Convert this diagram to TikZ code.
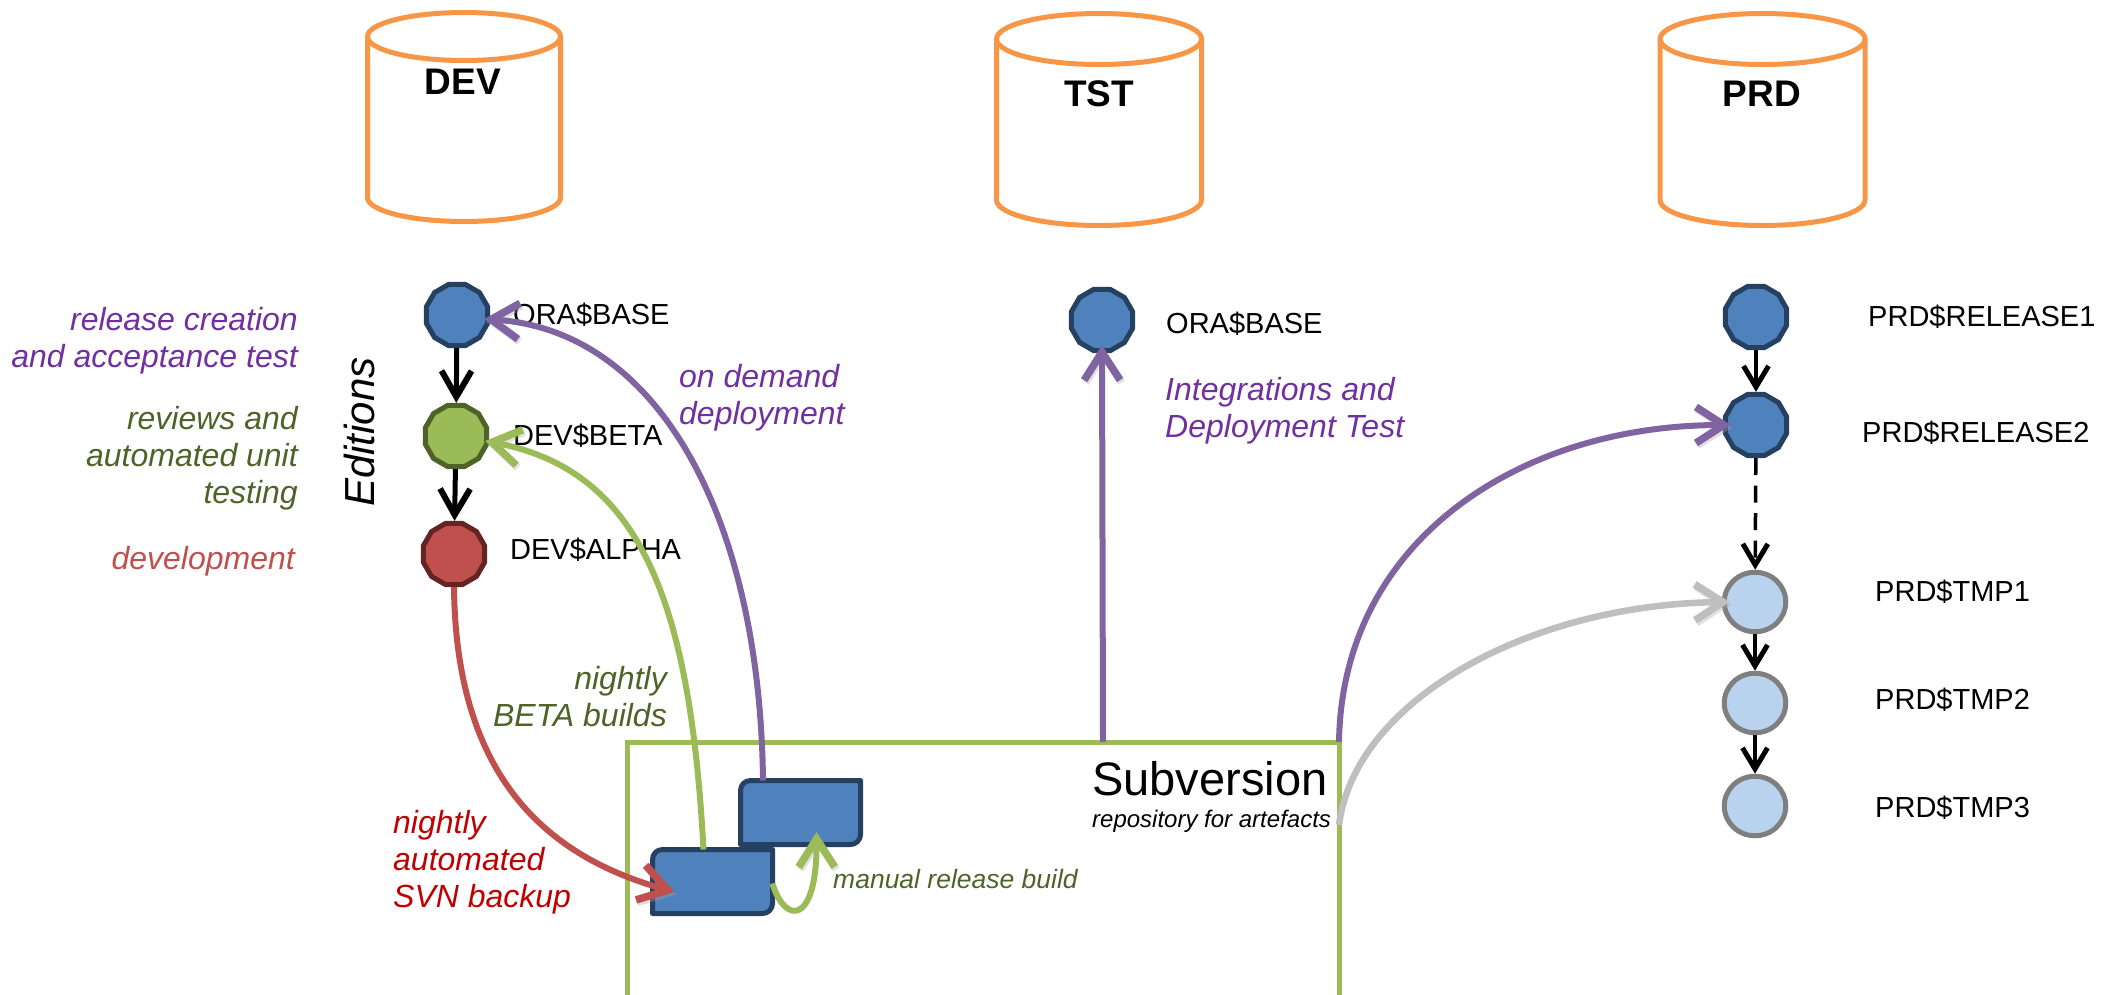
\documentclass[tikz,border=0pt]{standalone}
\usepackage{fontspec}
\setmainfont{Liberation Sans}
\usetikzlibrary{arrows.meta,shapes.geometric,positioning}
\definecolor{orng}{HTML}{F79646}
\definecolor{blu}{HTML}{4F81BD}
\definecolor{bluD}{HTML}{254061}
\definecolor{grn}{HTML}{9BBB59}
\definecolor{grnD}{HTML}{4F6228}
\definecolor{redf}{HTML}{C0504D}
\definecolor{redD}{HTML}{632523}
\definecolor{purp}{HTML}{8064A2}
\definecolor{purpT}{HTML}{7030A0}
\definecolor{redT}{HTML}{C00000}
\definecolor{lblu}{HTML}{B9D3EE}
\definecolor{gryD}{HTML}{7F7F7F}
\definecolor{gryL}{HTML}{BFBFBF}
\tikzset{
  x=1pt,y=-1pt,
  cyl/.style={draw=orng,line width=5pt,line join=round},
  cyltxt/.style={font=\fontsize{37}{40}\selectfont\bfseries,inner sep=0pt},
  ver/.style={regular polygon,regular polygon sides=12,minimum size=63.5pt,inner sep=0pt,line width=5pt,draw},
  vblue/.style={ver,fill=blu,draw=bluD},
  vgreen/.style={ver,fill=grn,draw=grnD},
  vred/.style={ver,fill=redf,draw=redD},
  vtmp/.style={ellipse,minimum width=61.5pt,minimum height=59.5pt,inner sep=0pt,line width=5pt,draw=gryD,fill=lblu},
  lbl/.style={font=\fontsize{29}{32}\selectfont,inner sep=0pt,anchor=west},
  note/.style={font=\fontsize{32}{37}\selectfont\itshape,inner sep=0pt,align=right,anchor=east},
  notel/.style={font=\fontsize{32}{37}\selectfont\itshape,inner sep=0pt,align=left,anchor=west},
  block/.style={minimum width=120pt,minimum height=64pt,inner sep=0pt,outer sep=0pt},
  blockline/.style={draw=bluD,fill=blu,line width=5pt,line join=round},
  shadowed/.style={preaction={draw=black!35,opacity=.35,transform canvas={shift={(1.5pt,-2.5pt)}}}},
  flow/.style={line width=6pt,shadowed,-{Straight Barb[length=28pt,width=36pt,line width=7.5pt]}},
  step arrow/.style={black,line width=5pt,-{Straight Barb[length=26pt,width=30pt,line width=6pt]}},
  thin arrow/.style={black,line width=3.5pt,-{Straight Barb[length=21pt,width=25pt,line width=5pt]}},
}
\newcommand{\dbcyl}[4]{% left x, x radius, ellipse centre y, y radius
  \draw[cyl] (#1,#3) -- (#1,#3+161) arc[start angle=180,end angle=0,x radius=#2,y radius=#4] -- +(0,-161);
  \draw[cyl] (#1+#2,#3) ellipse[x radius=#2,y radius=#4];
}
\newcommand{\buildblock}[1]{%
  \draw[blockline] (#1.north) -- (#1.north east) -- ([yshift=10pt]#1.south east) arc[start angle=0,end angle=90,radius=10] -- (#1.south west) -- ([yshift=-10pt]#1.north west) arc[start angle=180,end angle=270,radius=10] -- cycle;
}
\begin{document}
\begin{tikzpicture}
\useasboundingbox (0,0) rectangle (2115,994);
% storage cylinders
\dbcyl{367.5}{96.5}{36.5}{24}
\dbcyl{996.5}{102.5}{39}{25.5}
\dbcyl{1660}{102.5}{39}{25.5}
\node[cyltxt] (devname) at (463,82) {DEV};
\node[cyltxt] (tstname) at (1099,94) {TST};
\node[cyltxt] (prdname) at (1762,94) {PRD};
% left notes
\node[note,text=purpT] (n1) at (298,341) {release creation\\and acceptance test};
\node[note,text=grnD] (n2) at (298,458) {reviews and\\automated unit\\testing};
\node[note,text=redf] (n3) at (295,561) {development};
\node[font=\fontsize{42}{44}\selectfont\itshape,rotate=90,inner sep=0pt] (eds) at (359,432) {Editions};
% vertex labels
\node[lbl] (l1) at (513,315) {ORA\$BASE};
\node[lbl] (l2) at (513,436) {DEV\$BETA};
\node[lbl] (l3) at (510,550) {DEV\$ALPHA};
\node[lbl] (l4) at (1166,324) {ORA\$BASE};
\node[lbl] (l5) at (1868,317) {PRD\$RELEASE1};
\node[lbl] (l6) at (1862,433) {PRD\$RELEASE2};
\node[lbl] (l7) at (1875,592) {PRD\$TMP1};
\node[lbl] (l8) at (1875,700) {PRD\$TMP2};
\node[lbl] (l9) at (1875,808) {PRD\$TMP3};
% other notes
\node[notel,text=purpT] (n4) at (679,398) {on demand\\deployment};
\node[notel,text=purpT] (n5) at (1165,411) {Integrations and\\Deployment Test};
\node[note,text=grnD] (n6) at (667,697) {nightly\\BETA builds};
\node[notel,text=redT] (n7) at (393,862) {nightly\\automated\\SVN backup};
\node[font=\fontsize{26.5}{30}\selectfont\itshape,inner sep=0pt,anchor=west,text=grnD] (n8) at (833,879) {manual release build};
% repository
\node[draw=grn,line width=5pt,minimum width=712pt,minimum height=270pt,inner sep=0pt,outer sep=0pt] (svn) at (983,877) {};
\node[font=\fontsize{47}{50}\selectfont,inner sep=0pt,anchor=west] (svnt) at (1092,779) {Subversion};
\node[font=\fontsize{24}{28}\selectfont\itshape,inner sep=0pt,anchor=west] (svns) at (1092,821) {repository for artefacts};
% build blocks
\node[block] (upper) at (800.5,812.5) {};
\node[block] (lower) at (712.5,881.5) {};
\buildblock{upper}
\buildblock{lower}
% vertices
\node[vblue] (devbase) at (457,315) {};
\node[vgreen] (devbeta) at (456,436) {};
\node[vred] (devalpha) at (454,554) {};
\node[vblue] (tstbase) at (1102,320) {};
\node[vblue] (prd1) at (1756,317) {};
\node[vblue] (prd2) at (1756,425) {};
\node[vtmp] (tmp1) at (1755,602) {};
\node[vtmp] (tmp2) at (1755,703) {};
\node[vtmp] (tmp3) at (1755,806) {};
% edition arrows
\draw[step arrow] (devbase) -- (devbeta);
\draw[step arrow] (devbeta) -- (devalpha);
\draw[thin arrow] (prd1) -- (prd2);
\draw[thin arrow,dash pattern=on 17pt off 10.5pt] (prd2) -- (tmp1);
\draw[thin arrow] (tmp1) -- (tmp2);
\draw[thin arrow] (tmp2) -- (tmp3);
% flows
\draw[flow,draw=redf] (devalpha.south) .. controls (456,790) and (560,860) .. ([xshift=22pt,yshift=-10.5pt]lower.west);
\draw[flow,draw=grn] ([xshift=-9pt]lower.north) .. controls (690,600) and (640,470) .. ([xshift=-4pt,yshift=-5pt]devbeta.east);
\draw[flow,draw=purp] ([xshift=-37.5pt]upper.north) .. controls (760,520) and (660,330) .. ([xshift=-6pt,yshift=-4pt]devbase.east);
\draw[flow,draw=purp] ([xshift=120pt]svn.north) -- ([yshift=8pt]tstbase.south);
\draw[flow,draw=purp] (svn.north east) .. controls (1342,540) and (1520,425) .. ([xshift=8pt]prd2.west);
\draw[flow,draw=gryL,line width=6.5pt] ([yshift=-83pt]svn.north east) .. controls (1355,700) and (1530,604) .. ([xshift=8pt]tmp1.west);
\draw[flow,draw=grn] ([yshift=-2pt]lower.east) .. controls (785,925) and (817,925) .. ([xshift=16pt,yshift=12.5pt]upper.south);
\end{tikzpicture}
\end{document}
